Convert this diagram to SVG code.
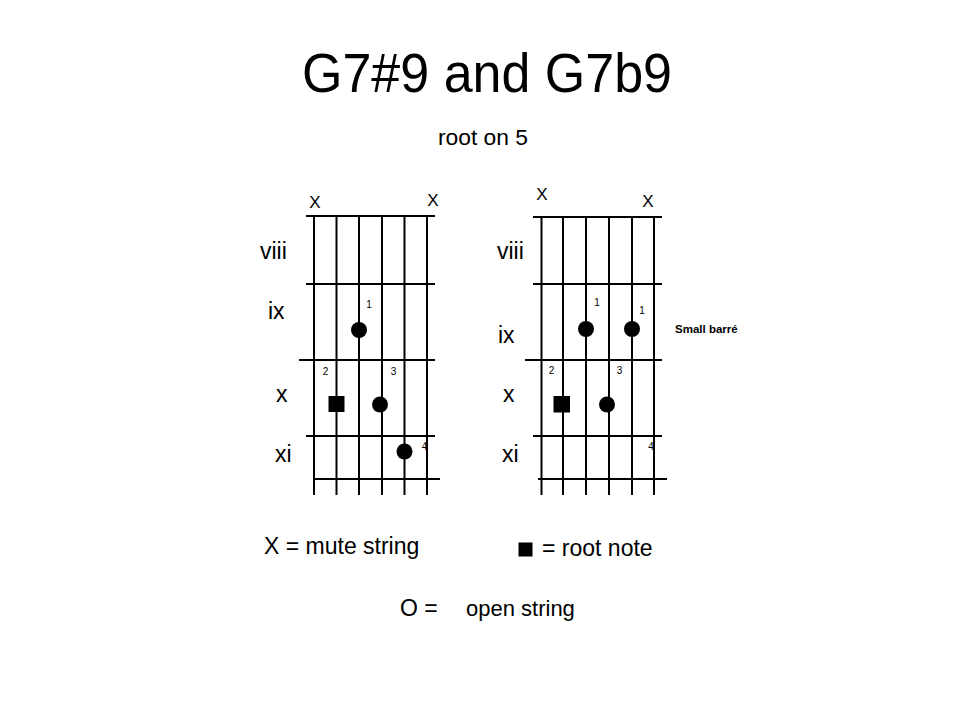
<svg xmlns="http://www.w3.org/2000/svg" width="960" height="720" viewBox="0 0 960 720">
<style>
text{font-family:"Liberation Sans",Arial,sans-serif;fill:#000}
.ln{stroke:#000;stroke-width:2;fill:none}
.fl{font-size:23px}
.mx{font-size:17px;text-anchor:middle}
.fn{font-size:10px;text-anchor:middle}
.dot{fill:#000}
</style>
<rect width="960" height="720" fill="#fff"/>
<g id="title">
<text x="302" y="91.5" font-size="55" textLength="370" lengthAdjust="spacingAndGlyphs">G7#9 and G7b9</text>
<text x="438" y="145" font-size="22.8">root on 5</text>
</g>
<g id="chord-g7s9">
<g class="ln">
<line x1="314" y1="215" x2="314" y2="495"/>
<line x1="336.5" y1="215" x2="336.5" y2="495"/>
<line x1="359" y1="215" x2="359" y2="495"/>
<line x1="382" y1="215" x2="382" y2="495"/>
<line x1="404.5" y1="215" x2="404.5" y2="495"/>
<line x1="427" y1="215" x2="427" y2="495"/>
<line x1="306" y1="216" x2="435" y2="216"/>
<line x1="306" y1="284" x2="435" y2="284"/>
<line x1="299" y1="360" x2="435" y2="360"/>
<line x1="306" y1="436" x2="435" y2="436"/>
<line x1="313" y1="479" x2="440" y2="479"/>
</g>
<text class="mx" x="315" y="208">X</text>
<text class="mx" x="433" y="206">X</text>
<text class="fl" x="260" y="259">viii</text>
<text class="fl" x="268" y="318.5">ix</text>
<text class="fl" x="276" y="401.5">x</text>
<text class="fl" x="275" y="461.5">xi</text>
<circle class="dot" cx="359" cy="330" r="8"/>
<rect class="dot" x="328.5" y="396" width="16" height="16"/>
<circle class="dot" cx="380" cy="404.5" r="8"/>
<circle class="dot" cx="404.5" cy="451.5" r="8"/>
<text class="fn" x="369" y="308">1</text>
<text class="fn" x="325.5" y="375">2</text>
<text class="fn" x="393.5" y="375">3</text>
<text class="fn" x="424.5" y="450">4</text>
</g>
<g id="chord-g7b9">
<g class="ln">
<line x1="541.5" y1="216" x2="541.5" y2="495"/>
<line x1="563" y1="216" x2="563" y2="495"/>
<line x1="586" y1="216" x2="586" y2="495"/>
<line x1="609" y1="216" x2="609" y2="495"/>
<line x1="632" y1="216" x2="632" y2="495"/>
<line x1="654" y1="216" x2="654" y2="495"/>
<line x1="533" y1="217" x2="662" y2="217"/>
<line x1="533" y1="284" x2="662" y2="284"/>
<line x1="525" y1="360" x2="662" y2="360"/>
<line x1="533" y1="436" x2="662" y2="436"/>
<line x1="538" y1="479" x2="667" y2="479"/>
</g>
<text class="mx" x="542" y="200">X</text>
<text class="mx" x="648" y="207">X</text>
<text class="fl" x="497" y="259">viii</text>
<text class="fl" x="498" y="342.5">ix</text>
<text class="fl" x="503" y="401.5">x</text>
<text class="fl" x="502" y="461.5">xi</text>
<circle class="dot" cx="586" cy="329" r="8"/>
<circle class="dot" cx="632" cy="329" r="8"/>
<rect class="dot" x="553.5" y="396" width="16.5" height="16.5"/>
<circle class="dot" cx="607" cy="404.5" r="8"/>
<text class="fn" x="597" y="306">1</text>
<text class="fn" x="642" y="314">1</text>
<text class="fn" x="551.5" y="374">2</text>
<text class="fn" x="619.5" y="374">3</text>
<text class="fn" x="651" y="450">4</text>
<text x="675" y="333" font-size="11.5" font-weight="bold">Small barré</text>
</g>
<g id="legend">
<text x="264" y="554" font-size="23">X = mute string</text>
<rect class="dot" x="518.5" y="542.5" width="14" height="14"/>
<text x="542" y="556" font-size="23">= root note</text>
<text x="400" y="616" font-size="23">O =</text>
<text x="466" y="616" font-size="22">open string</text>
</g>
</svg>
